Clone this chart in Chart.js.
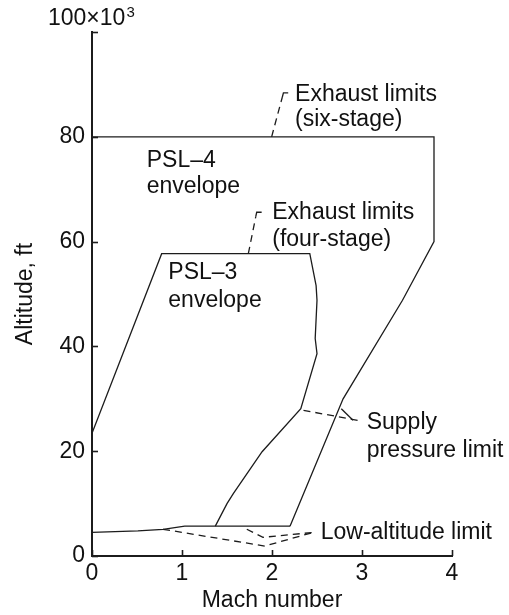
<!DOCTYPE html>
<html><head><meta charset="utf-8">
<script src="https://cdn.jsdelivr.net/npm/chart.js@4"></script>
<style>html,body{margin:0;padding:0;background:#fff}canvas{display:block}</style>
</head><body>
<canvas id="c" width="509" height="615"></canvas>
<script>
// ---- data (Mach number, altitude in thousands of ft) ----
const xTicks = [0, 1, 2, 3, 4];
const yTicks = [0, 20, 40, 60, 80, 100];
const yTickLabels = ['0', '20', '40', '60', '80', ''];

const psl4Mach = [0, 3.8, 3.8, 3.45, 2.79, 2.2];
const psl4Alt  = [80, 80, 60, 48.8, 30, 5.7];

const psl3Mach = [0, 0.774, 2.42, 2.49, 2.5, 2.48, 2.5, 2.32, 1.89, 1.57, 1.5, 1.37];
const psl3Alt  = [23.4, 57.7, 57.7, 51.6, 48.8, 41.5, 38.6, 28.1, 19.9, 11.9, 10.0, 5.7];

const lowMach = [0, 0.51, 0.79, 1.03, 2.2];
const lowAlt  = [4.5, 4.8, 5.1, 5.7, 5.7];

const sixLeadMach = [1.996, 2.115];
const sixLeadAlt  = [80, 87.6];
const sixHookMach = [2.115, 2.127, 2.18];
const sixHookAlt  = [87.6, 88.4, 88.4];
const fourLeadMach = [1.737, 1.82];
const fourLeadAlt  = [57.7, 64.8];
const fourHookMach = [1.82, 1.83, 1.885];
const fourHookAlt  = [64.8, 65.6, 65.6];
const supplyLeadAMach = [2.35, 2.98];
const supplyLeadAAlt  = [27.8, 25.8];
const supplyLeadBMach = [2.77, 2.9];
const supplyLeadBAlt  = [28.1, 25.9];
const lowLeadAMach = [0.79, 1.92, 2.46];
const lowLeadAAlt  = [5.1, 1.9, 4.5];
const lowLeadBMach = [1.72, 1.9, 2.46];
const lowLeadBAlt  = [5.1, 3.56, 4.5];

// text notes: anchor in data units (Mach, kft) = left/baseline of first line
const notes = [
  {lines: ['Exhaust limits', '(six-stage)'], m: 2.256, a: 86.9, gap: 25},
  {lines: ['Exhaust limits', '(four-stage)'], m: 2.003, a: 64.4, gap: 27},
  {lines: ['PSL\u20134', 'envelope'], m: 0.608, a: 74.3, gap: 26},
  {lines: ['PSL\u20133', 'envelope'], m: 0.848, a: 52.9, gap: 28},
  {lines: ['Supply', 'pressure limit'], m: 3.052, a: 24.3, gap: 28},
  {lines: ['Low-altitude limit'], m: 2.541, a: 3.2, gap: 27}
];

const INK = '#1c1c1c';
const FAM = '"Liberation Sans", Arial, Helvetica, sans-serif';
const FS = 23;
const font = {family: FAM, size: FS};

function pts(xs, ys) { return xs.map((v, i) => ({x: v, y: ys[i]})); }
function solid(xs, ys) {
  return {data: pts(xs, ys), showLine: true, pointRadius: 0, borderColor: INK, borderWidth: 1.3, fill: false, tension: 0};
}
function dashed(xs, ys) {
  const d = solid(xs, ys); d.borderDash = [7, 5]; return d;
}

const decor = {
  id: 'decor',
  afterDraw(chart) {
    const {ctx, chartArea: a, scales: {x, y}} = chart;
    ctx.save();
    ctx.strokeStyle = INK;
    ctx.lineWidth = 1.6;
    xTicks.forEach(v => {
      const px = Math.round(x.getPixelForValue(v)) + 0.5;
      ctx.beginPath(); ctx.moveTo(px, a.bottom); ctx.lineTo(px, a.bottom - 6); ctx.stroke();
    });
    yTicks.forEach(v => {
      const py = Math.round(y.getPixelForValue(v)) + 0.5;
      ctx.beginPath(); ctx.moveTo(a.left, py); ctx.lineTo(a.left + 6, py); ctx.stroke();
    });
    ctx.fillStyle = '#111';
    ctx.textAlign = 'left';
    ctx.textBaseline = 'alphabetic';
    ctx.font = FS + 'px ' + FAM;
    notes.forEach(n => {
      const px = x.getPixelForValue(n.m), py = y.getPixelForValue(n.a);
      n.lines.forEach((t, i) => ctx.fillText(t, px, py + i * n.gap));
    });
    // y-axis multiplier label
    const base = '100\u00d710';
    const lx = 48, ly = 25;
    ctx.fillText(base, lx, ly);
    const w = ctx.measureText(base).width;
    ctx.font = '15px ' + FAM;
    ctx.fillText('3', lx + w + 1, ly - 8);
    ctx.restore();
  }
};

new Chart(document.getElementById('c'), {
  type: 'scatter',
  data: {datasets: [
    solid(psl4Mach, psl4Alt),
    solid(psl3Mach, psl3Alt),
    solid(lowMach, lowAlt),
    dashed(sixLeadMach, sixLeadAlt),
    solid(sixHookMach, sixHookAlt),
    dashed(fourLeadMach, fourLeadAlt),
    solid(fourHookMach, fourHookAlt),
    dashed(supplyLeadAMach, supplyLeadAAlt),
    solid(supplyLeadBMach, supplyLeadBAlt),
    dashed(lowLeadAMach, lowLeadAAlt),
    dashed(lowLeadBMach, lowLeadBAlt)
  ]},
  options: {
    responsive: false, animation: false, devicePixelRatio: 1,
    layout: {padding: {top: 32, right: 57, left: 0, bottom: 0}},
    plugins: {legend: {display: false}, tooltip: {enabled: false}},
    scales: {
      x: {
        type: 'linear', min: 0, max: 4,
        afterBuildTicks: s => { s.ticks = xTicks.map(v => ({value: v})); },
        afterFit: s => { s.height = 59; },
        ticks: {font, color: '#111', padding: 4, maxRotation: 0, callback: v => String(v)},
        grid: {drawOnChartArea: false, drawTicks: false},
        border: {display: true, width: 2, color: INK},
        title: {display: true, text: 'Mach number', font, color: '#111', padding: {top: 0, bottom: 1}}
      },
      y: {
        type: 'linear', min: 0, max: 100,
        afterBuildTicks: s => { s.ticks = yTicks.map(v => ({value: v})); },
        afterFit: s => { s.width = 92; },
        ticks: {font, color: '#111', padding: 7, callback: v => yTickLabels[yTicks.indexOf(v)]},
        grid: {drawOnChartArea: false, drawTicks: false},
        border: {display: true, width: 2, color: INK},
        title: {display: true, text: 'Altitude, ft', font, color: '#111', padding: {top: 12, bottom: 0}}
      }
    }
  },
  plugins: [decor]
});
</script>
</body></html>
